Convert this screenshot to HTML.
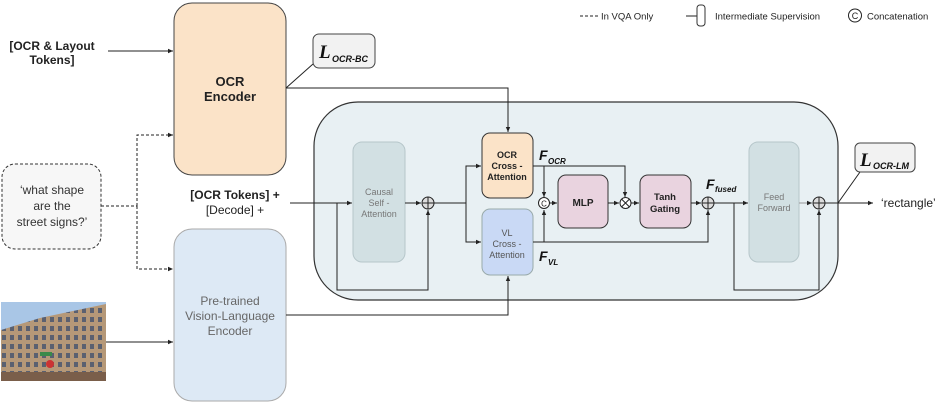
<!DOCTYPE html>
<html><head><meta charset="utf-8"><style>
html,body{margin:0;padding:0;background:#fff}
svg{display:block;font-family:"Liberation Sans",Arial,sans-serif}
</style></head><body>
<svg width="942" height="403" viewBox="0 0 942 403" xmlns="http://www.w3.org/2000/svg">
<defs>
<marker id="a" markerWidth="6" markerHeight="6" refX="5" refY="3" orient="auto" markerUnits="userSpaceOnUse"><path d="M0,0.8 L5,3 L0,5.2z" fill="#222"/></marker>
<pattern id="win" width="8" height="9" patternUnits="userSpaceOnUse"><rect width="8" height="9" fill="#b59878"/><rect x="2" y="2" width="4" height="5" fill="#5a6070"/></pattern>
</defs>
<!-- legend -->
<line x1="580" y1="16" x2="598" y2="16" stroke="#222" stroke-dasharray="3,2"/>
<text x="601" y="19.5" font-size="9.5" fill="#222">In VQA Only</text>
<line x1="686" y1="16" x2="697" y2="16" stroke="#222"/>
<rect x="697" y="5" width="8" height="21" rx="3" fill="#fff" stroke="#333"/>
<text x="715" y="19.5" font-size="9.5" fill="#222">Intermediate Supervision</text>
<circle cx="855" cy="15.5" r="6.5" fill="#fff" stroke="#222"/>
<text x="855" y="19" font-size="9" text-anchor="middle" fill="#222">C</text>
<text x="867" y="19.5" font-size="9.5" fill="#222">Concatenation</text>

<!-- big panel -->
<rect x="314" y="102" width="524" height="198" rx="44" fill="#e8f0f3" stroke="#333" stroke-width="1.2"/>

<!-- encoders -->
<rect x="174" y="3" width="112" height="172" rx="18" fill="#fbe3c8" stroke="#444"/>
<text x="230" y="86" font-size="13" font-weight="bold" text-anchor="middle" fill="#222">OCR</text>
<text x="230" y="101" font-size="13" font-weight="bold" text-anchor="middle" fill="#222">Encoder</text>
<rect x="174" y="229" width="112" height="172" rx="18" fill="#dde9f5" stroke="#aaa"/>
<text x="230" y="305" font-size="12" text-anchor="middle" fill="#666">Pre-trained</text>
<text x="230" y="320" font-size="12" text-anchor="middle" fill="#666">Vision-Language</text>
<text x="230" y="335" font-size="12" text-anchor="middle" fill="#666">Encoder</text>

<!-- inputs -->
<text x="52" y="50" font-size="12" font-weight="bold" text-anchor="middle" fill="#222">[OCR &amp; Layout</text>
<text x="52" y="64" font-size="12" font-weight="bold" text-anchor="middle" fill="#222">Tokens]</text>
<line x1="108" y1="51" x2="173" y2="51" stroke="#222" marker-end="url(#a)"/>
<rect x="2" y="164" width="99" height="85" rx="13" fill="#f7f7f7" stroke="#333" stroke-dasharray="3,2"/>
<text x="52" y="194" font-size="12" text-anchor="middle" fill="#333">‘what shape</text>
<text x="52" y="210" font-size="12" text-anchor="middle" fill="#333">are the</text>
<text x="52" y="226" font-size="12" text-anchor="middle" fill="#333">street signs?’</text>
<polyline points="101,206 137,206" fill="none" stroke="#222" stroke-dasharray="3,2"/>
<polyline points="137,206 137,135 173,135" fill="none" stroke="#222" stroke-dasharray="3,2" marker-end="url(#a)"/>
<polyline points="137,206 137,269 173,269" fill="none" stroke="#222" stroke-dasharray="3,2" marker-end="url(#a)"/>
<!-- image -->
<rect x="1" y="302" width="105" height="79" fill="#a9c6e6"/>
<polygon points="1,330 40,318 106,304 106,381 1,381" fill="url(#win)"/>
<rect x="1" y="372" width="105" height="9" fill="#7a5e4a"/>
<rect x="40" y="352" width="12" height="4" fill="#3a8a4a"/>
<circle cx="50" cy="364" r="4" fill="#c33"/>
<line x1="106" y1="342" x2="173" y2="342" stroke="#222" marker-end="url(#a)"/>

<!-- L_OCR-BC -->
<line x1="286" y1="88" x2="313" y2="64" stroke="#222"/>
<rect x="313" y="34" width="62" height="34" rx="6" fill="#f2f2f2" stroke="#444"/>
<text x="319" y="58" font-size="19" font-weight="bold" font-style="italic" font-family="Liberation Serif,serif" fill="#111">L</text>
<text x="332" y="62" font-size="9" font-weight="bold" font-style="italic" fill="#111">OCR-BC</text>

<!-- encoder outputs -->
<polyline points="286,88 508,88 508,132" fill="none" stroke="#222" marker-end="url(#a)"/>
<polyline points="286,315 508,315 508,276" fill="none" stroke="#222" marker-end="url(#a)"/>

<!-- tokens -->
<text x="235" y="199" font-size="12" font-weight="bold" text-anchor="middle" fill="#222">[OCR Tokens] +</text>
<text x="235" y="214" font-size="12" text-anchor="middle" fill="#222">[Decode] +</text>
<line x1="290" y1="203" x2="352" y2="203" stroke="#222" marker-end="url(#a)"/>
<polyline points="337,203 337,290 428,290 428,210" fill="none" stroke="#222" marker-end="url(#a)"/>
<rect x="353" y="142" width="52" height="120" rx="9" fill="#d2e0e3" stroke="#b6c6ca"/>
<text x="379" y="195" font-size="9" text-anchor="middle" fill="#777">Causal</text>
<text x="379" y="206" font-size="9" text-anchor="middle" fill="#777">Self -</text>
<text x="379" y="217" font-size="9" text-anchor="middle" fill="#777">Attention</text>
<line x1="405" y1="203" x2="421" y2="203" stroke="#222" marker-end="url(#a)"/>

<!-- cross attn -->
<polyline points="434,203 466,203" fill="none" stroke="#222"/>
<polyline points="466,203 466,166 481,166" fill="none" stroke="#222" marker-end="url(#a)"/>
<polyline points="466,203 466,242 481,242" fill="none" stroke="#222" marker-end="url(#a)"/>
<rect x="482" y="133" width="51" height="65" rx="8" fill="#fbe3c8" stroke="#333"/>
<text x="507" y="158" font-size="9" font-weight="bold" text-anchor="middle" fill="#222">OCR</text>
<text x="507" y="169" font-size="9" font-weight="bold" text-anchor="middle" fill="#222">Cross -</text>
<text x="507" y="180" font-size="9" font-weight="bold" text-anchor="middle" fill="#222">Attention</text>
<rect x="482" y="209" width="51" height="66" rx="8" fill="#c9d9f5" stroke="#9aa"/>
<text x="507" y="236" font-size="9" text-anchor="middle" fill="#555">VL</text>
<text x="507" y="247" font-size="9" text-anchor="middle" fill="#555">Cross -</text>
<text x="507" y="258" font-size="9" text-anchor="middle" fill="#555">Attention</text>
<text x="539" y="160" font-size="14" font-weight="bold" font-style="italic" fill="#111">F</text>
<text x="548" y="164" font-size="8" font-weight="bold" font-style="italic" fill="#111">OCR</text>
<text x="539" y="261" font-size="14" font-weight="bold" font-style="italic" fill="#111">F</text>
<text x="548" y="265" font-size="8" font-weight="bold" font-style="italic" fill="#111">VL</text>

<polyline points="533,166 625,166 625,197" fill="none" stroke="#222" marker-end="url(#a)"/>
<line x1="544" y1="166" x2="544" y2="197" stroke="#222" marker-end="url(#a)"/>
<polyline points="533,242 708,242 708,210" fill="none" stroke="#222" marker-end="url(#a)"/>
<line x1="544" y1="242" x2="544" y2="210" stroke="#222" marker-end="url(#a)"/>
<circle cx="544" cy="203" r="5.5" fill="#fff" stroke="#222"/>
<text x="544" y="206.5" font-size="8" text-anchor="middle" fill="#222">C</text>
<line x1="550" y1="203" x2="557" y2="203" stroke="#222" marker-end="url(#a)"/>
<rect x="558" y="175" width="50" height="53" rx="8" fill="#e9d3df" stroke="#333"/>
<text x="583" y="206" font-size="10" font-weight="bold" text-anchor="middle" fill="#222">MLP</text>
<line x1="608" y1="203" x2="619" y2="203" stroke="#222" marker-end="url(#a)"/>
<circle cx="625.5" cy="203" r="5.5" fill="#fff" stroke="#222"/>
<path d="M621.6,199.1 L629.4,206.9 M629.4,199.1 L621.6,206.9" stroke="#222"/>
<line x1="631" y1="203" x2="639" y2="203" stroke="#222" marker-end="url(#a)"/>
<rect x="640" y="175" width="51" height="53" rx="8" fill="#e9d3df" stroke="#333"/>
<text x="665" y="200" font-size="9.5" font-weight="bold" text-anchor="middle" fill="#222">Tanh</text>
<text x="665" y="212" font-size="9.5" font-weight="bold" text-anchor="middle" fill="#222">Gating</text>
<line x1="691" y1="203" x2="701" y2="203" stroke="#222" marker-end="url(#a)"/>
<circle cx="708" cy="203" r="6" fill="#ddd" stroke="#222"/>
<path d="M702,203 H714 M708,197 V209" stroke="#222"/>
<text x="706" y="189" font-size="14" font-weight="bold" font-style="italic" fill="#111">F</text>
<text x="715" y="192" font-size="8" font-weight="bold" font-style="italic" fill="#111">fused</text>

<!-- feed forward -->
<line x1="714" y1="203" x2="748" y2="203" stroke="#222" marker-end="url(#a)"/>
<polyline points="734,203 734,290 819,290 819,210" fill="none" stroke="#222" marker-end="url(#a)"/>
<rect x="749" y="142" width="50" height="120" rx="9" fill="#d2e0e3" stroke="#b6c6ca"/>
<text x="774" y="200" font-size="9" text-anchor="middle" fill="#777">Feed</text>
<text x="774" y="211" font-size="9" text-anchor="middle" fill="#777">Forward</text>
<line x1="799" y1="203" x2="812" y2="203" stroke="#999" marker-end="url(#a)"/>
<circle cx="819" cy="203" r="6" fill="#ddd" stroke="#222"/>
<path d="M813,203 H825 M819,197 V209" stroke="#222"/>
<line x1="825" y1="203" x2="873" y2="203" stroke="#222" marker-end="url(#a)"/>
<text x="881" y="207" font-size="12" fill="#222">‘rectangle’</text>
<circle cx="428" cy="203" r="6" fill="#ddd" stroke="#222"/>
<path d="M422,203 H434 M428,197 V209" stroke="#222"/>

<!-- L_OCR-LM -->
<line x1="838" y1="203" x2="860" y2="172" stroke="#222"/>
<rect x="855" y="143" width="60" height="29" rx="5" fill="#f2f2f2" stroke="#444"/>
<text x="860" y="166" font-size="19" font-weight="bold" font-style="italic" font-family="Liberation Serif,serif" fill="#111">L</text>
<text x="873" y="169" font-size="9" font-weight="bold" font-style="italic" fill="#111">OCR-LM</text>
</svg>
</body></html>
